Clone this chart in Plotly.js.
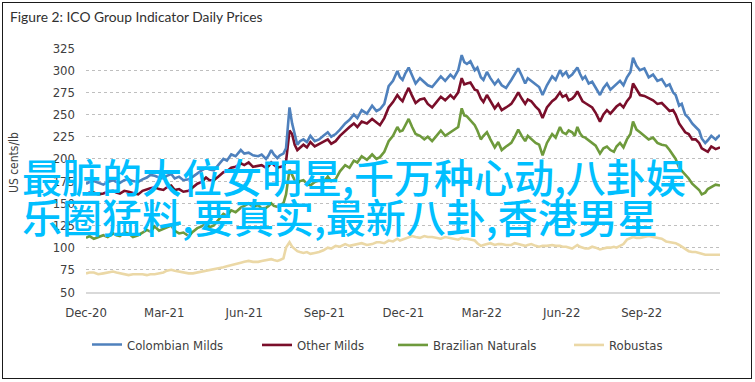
<!DOCTYPE html>
<html>
<head>
<meta charset="utf-8">
<script src="https://cdn.plot.ly/plotly-3.0.1.min.js"></script>
<style>
  html, body { margin: 0; padding: 0; background: #fff; }
  #wrap { position: relative; width: 755px; height: 382px; }
  #chart { width: 755px; height: 382px; }
  #frame { position: absolute; left: 2px; top: 2px; width: 748px; height: 375px; border: 1.5px solid #1a1a1a; pointer-events: none; }
</style>
</head>
<body>
<div id="wrap"><div id="chart"></div><div id="frame"></div></div>
<script>
const dates = [
  "2020-12-01","2020-12-05","2020-12-10","2020-12-15","2020-12-21","2020-12-26","2021-01-01","2021-01-05","2021-01-09","2021-01-14",
  "2021-01-19","2021-01-24","2021-01-30","2021-02-04","2021-02-09","2021-02-13","2021-02-18","2021-02-23","2021-02-28","2021-03-04",
  "2021-03-09","2021-03-13","2021-03-18","2021-03-23","2021-03-29","2021-04-03","2021-04-08","2021-04-13","2021-04-18","2021-04-22",
  "2021-04-27","2021-05-02","2021-05-08","2021-05-12","2021-05-17","2021-05-22","2021-05-28","2021-06-01","2021-06-06","2021-06-11",
  "2021-06-17","2021-06-21","2021-06-26","2021-06-29","2021-07-02","2021-07-05","2021-07-09","2021-07-12","2021-07-16","2021-07-19",
  "2021-07-23","2021-07-26","2021-07-29","2021-08-01","2021-08-04","2021-08-08","2021-08-12","2021-08-16","2021-08-21","2021-08-26",
  "2021-08-31","2021-09-05","2021-09-09","2021-09-14","2021-09-19","2021-09-25","2021-09-30","2021-10-05","2021-10-09","2021-10-14",
  "2021-10-20","2021-10-26","2021-10-31","2021-11-04","2021-11-09","2021-11-14","2021-11-19","2021-11-24","2021-11-27","2021-11-30",
  "2021-12-03","2021-12-07","2021-12-11","2021-12-15","2021-12-20","2021-12-25","2021-12-29","2022-01-03","2022-01-08","2022-01-13",
  "2022-01-18","2022-01-24","2022-01-28","2022-02-02","2022-02-06","2022-02-09","2022-02-12","2022-02-16","2022-02-21","2022-02-24",
  "2022-02-28","2022-03-03","2022-03-07","2022-03-11","2022-03-16","2022-03-20","2022-03-24","2022-03-29","2022-04-04","2022-04-08",
  "2022-04-12","2022-04-16","2022-04-20","2022-04-23","2022-04-27","2022-05-02","2022-05-06","2022-05-10","2022-05-15","2022-05-21",
  "2022-05-25","2022-05-30","2022-06-02","2022-06-06","2022-06-09","2022-06-13","2022-06-16","2022-06-19","2022-06-22","2022-06-25",
  "2022-06-28","2022-07-02","2022-07-06","2022-07-10","2022-07-15","2022-07-19","2022-07-23","2022-07-27","2022-07-31","2022-08-03",
  "2022-08-07","2022-08-11","2022-08-15","2022-08-19","2022-08-22","2022-08-26","2022-08-30","2022-09-04","2022-09-09","2022-09-14",
  "2022-09-19","2022-09-24","2022-09-29","2022-10-03","2022-10-07","2022-10-10","2022-10-14","2022-10-17","2022-10-21","2022-10-25",
  "2022-10-29","2022-11-02","2022-11-06","2022-11-09","2022-11-13","2022-11-16","2022-11-20","2022-11-25","2022-11-30"
];
const colombianMilds = [
  172,174,175,173,171,174,176,174,173,176,
  177,175,174,177,179,182,181,179,178,181,
  183,178,180,176,177,180,184,187,190,188,
  187,193,200,198,205,203,210,206,207,204,
  203,205,200,204,210,205,201,204,206,212,
  258,240,226,216,220,222,219,226,220,222,
  226,230,225,228,233,240,244,250,246,255,
  251,260,254,256,262,282,288,299,292,289,
  296,303,294,285,291,287,283,281,287,293,
  288,295,291,300,317,309,307,310,300,303,
  292,289,298,291,284,289,283,280,289,295,
  302,294,285,291,288,284,281,272,283,293,
  289,300,294,298,292,295,299,303,296,290,
  293,285,287,280,272,280,285,278,282,285,
  288,283,292,298,314,305,300,302,292,295,
  288,290,282,284,275,272,260,262,250,246,
  240,236,232,223,218,221,226,222,227
];
const otherMilds = [
  160,162,162,160,161,163,164,162,161,164,
  163,162,160,164,166,167,168,166,165,168,
  170,165,166,163,164,168,172,174,179,176,
  176,180,185,186,190,191,195,193,196,191,
  192,193,190,192,196,193,190,191,192,197,
  232,228,216,210,213,216,213,219,214,217,
  219,222,217,220,226,232,236,240,236,242,
  240,245,241,238,246,258,264,272,268,265,
  272,280,271,263,267,268,262,258,264,270,
  266,272,268,275,291,284,285,286,278,277,
  268,264,272,266,257,262,255,258,262,268,
  275,268,262,267,265,259,255,246,258,265,
  268,275,270,272,266,268,271,276,270,265,
  263,260,258,252,242,250,255,251,256,259,
  262,258,265,270,285,278,272,271,268,266,
  262,263,258,254,255,250,240,236,230,228,
  222,222,218,212,210,208,214,211,213
];
const brazilianNaturals = [
  111,113,110,112,114,112,116,114,113,117,
  116,112,114,117,120,118,124,119,121,123,
  125,119,116,117,113,118,122,124,127,123,
  125,131,138,136,142,140,145,147,150,146,
  148,144,145,147,150,147,146,148,150,160,
  188,182,176,172,175,176,172,170,174,176,
  174,180,175,177,186,193,190,198,196,203,
  199,205,200,202,208,220,226,236,231,232,
  238,245,236,228,226,222,225,220,226,232,
  226,230,232,236,257,249,248,244,238,232,
  222,226,230,222,213,219,210,214,218,225,
  233,226,220,226,222,218,216,204,218,228,
  224,236,230,228,232,230,226,236,229,225,
  224,221,219,215,206,212,214,210,208,214,
  218,213,222,228,242,233,230,226,222,224,
  218,216,215,210,205,200,190,187,182,178,
  172,169,165,160,162,166,168,171,170
];
const robustas = [
  71,72,72,70,71,72,73,72,71,70,
  69,70,70,70,69,70,70,71,72,74,
  75,74,73,72,71,71,72,73,74,74,
  75,76,78,79,80,81,83,84,85,84,
  84,85,86,86,87,86,85,86,88,100,
  106,101,98,96,95,94,95,93,94,95,
  97,100,99,102,101,104,102,103,104,105,
  103,104,106,106,105,108,107,110,108,109,
  110,111,113,112,111,113,112,112,111,110,
  112,111,110,109,111,110,110,109,108,105,
  102,103,104,105,103,104,104,103,103,105,
  104,103,102,103,104,102,101,102,102,103,
  102,102,101,101,100,99,101,103,101,100,
  99,99,101,100,98,99,100,100,101,100,
  102,104,109,111,112,111,111,112,113,112,
  111,110,107,106,105,105,103,101,98,96,
  95,95,94,93,92,92,92,92,92
];
const seriesNames = ["Colombian Milds","Other Milds","Brazilian Naturals","Robustas"];
const seriesColors = ["#4F81BD","#7A0E2A","#6E9A3C","#EBD8A6"];
const xTickVals = ["2020-12-01","2021-03-01","2021-06-01","2021-09-01","2021-12-01","2022-03-01","2022-06-01","2022-09-01"];
const xTickText = ["Dec-20","Mar-21","Jun-21","Sep-21","Dec-21","Mar-22","Jun-22","Sep-22"];
const yTickVals = [50,75,100,125,150,175,200,225,250,275,300,325];
const chartTitle = "Figure 2: ICO Group Indicator Daily Prices";
const yTitle = "US cents/lb";
const overlayLines = ["最脏的大位女明星,千万种心动,八卦娱", "乐圈猛料,要真实,最新八卦,香港男星"];

const narrow = "Liberation Sans Narrow, DejaVu Sans Condensed, Arial Narrow, sans-serif";
const allSeries = [colombianMilds, otherMilds, brazilianNaturals, robustas];
const legendIds = ["legend","legend2","legend3","legend4"];
const traces = allSeries.map((vals, i) => ({
  type: "scatter", mode: "lines", x: dates, y: vals, name: seriesNames[i],
  line: {color: seriesColors[i], width: 2.6},
  legend: legendIds[i], showlegend: true
}));
traces.reverse();

const W = 634, plotLeft = 86;
function px2paperX(p){ return (p - plotLeft) / W; }
function px2paperY(p){ return (292 - p) / 244; }
const legendStarts = [91, 257, 393, 569];
const legendTextStarts = [127, 292, 430, 601];
const legendCenterY = 345;
const legendBase = {orientation: "h", xanchor: "left", yanchor: "middle", y: px2paperY(legendCenterY),
  font: {family: narrow, size: 13, color: "#404040"}, bgcolor: "rgba(0,0,0,0)", borderwidth: 0};

const layout = {
  width: 755, height: 382,
  margin: {l: 86, r: 35, t: 48, b: 90},
  paper_bgcolor: "#ffffff", plot_bgcolor: "#ffffff",
  title: {text: chartTitle, xref: "container", yref: "container", x: 10/755, xanchor: "left",
          y: 1 - 17/382, yanchor: "middle", font: {family: "Lato, sans-serif", size: 13.8, color: "#303030"}},
  xaxis: {type: "date", range: ["2020-12-01","2022-11-30"], tickmode: "array", tickvals: xTickVals, ticktext: xTickText,
          showgrid: false, showline: true, linecolor: "#D9D9D9", linewidth: 1.5, ticks: "", zeroline: false,
          tickfont: {family: narrow, size: 13, color: "#404040"}, ticklabelstandoff: 8},
  yaxis: {range: [50, 325], tickmode: "array", tickvals: yTickVals, showgrid: true, gridcolor: "#BFBFBF",
          griddash: "dot", gridwidth: 1, zeroline: false, showline: false, ticks: "",
          tickfont: {family: narrow, size: 13, color: "#404040"}, ticklabelstandoff: 10},
  showlegend: true,
  annotations: [
    {text: yTitle, xref: "paper", yref: "paper", x: px2paperX(14), y: px2paperY(163), textangle: -90,
     showarrow: false, xanchor: "center", yanchor: "middle", font: {family: narrow, size: 12, color: "#404040"}},
    {text: overlayLines[0], xref: "paper", yref: "paper", x: px2paperX(20), y: px2paperY(176), xanchor: "left", yanchor: "middle",
     showarrow: false, font: {family: "Noto Sans CJK SC, sans-serif", size: 40, weight: 500, color: "#00BFFF"}},
    {text: overlayLines[1], xref: "paper", yref: "paper", x: px2paperX(20), y: px2paperY(216), xanchor: "left", yanchor: "middle",
     showarrow: false, font: {family: "Noto Sans CJK SC, sans-serif", size: 40, weight: 500, color: "#00BFFF"}}
  ]
};
legendIds.forEach((id, i) => {
  layout[id] = Object.assign({}, legendBase, {x: px2paperX(legendStarts[i])});
});
Plotly.newPlot("chart", traces, layout, {displayModeBar: false, staticPlot: true}).then(gd => {
  const cr = gd.getBoundingClientRect();
  const updates = {};
  legendIds.forEach((id, i) => {
    const g = gd.querySelector("g." + id);
    if (!g) return;
    const t = g.querySelector("text.legendtext");
    if (!t) return;
    const r = t.getBoundingClientRect();
    const curX = r.left - cr.left;
    const curY = (r.top + r.bottom) / 2 - cr.top;
    updates[id + ".x"] = layout[id].x + (legendTextStarts[i] - curX) / W;
    updates[id + ".y"] = layout[id].y - (legendCenterY - curY) / 244;
  });
  return Plotly.relayout(gd, updates);
});
</script>
</body>
</html>
